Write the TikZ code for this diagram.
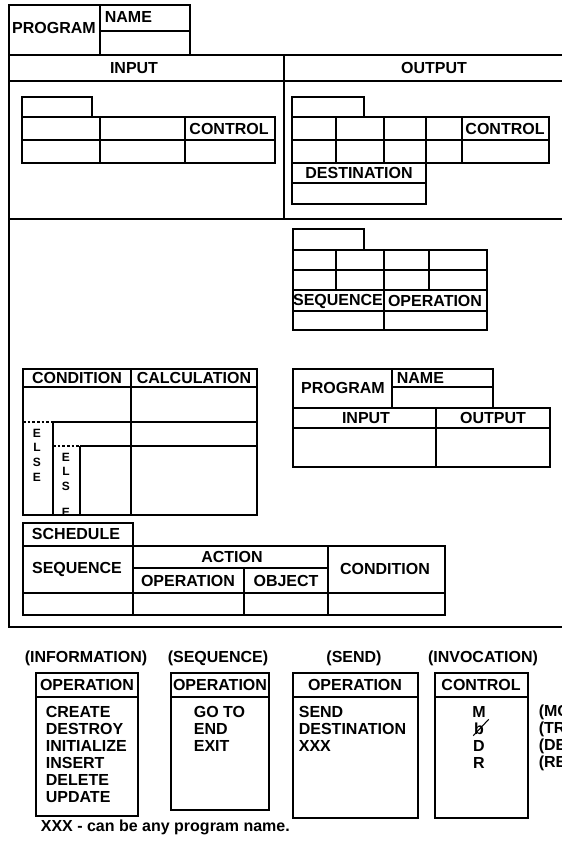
\documentclass[tikz,border=0pt]{standalone}
\usepackage{fontspec}
\setmainfont{Liberation Sans}
\tikzset{
    lbl/.style={font=\bfseries\fontsize{12}{14}\selectfont, inner sep=0pt},
    lft/.style={lbl, anchor=west},
    small/.style={font=\bfseries\fontsize{9}{10}\selectfont, inner sep=0pt},
    elsedash/.style={dash pattern=on 2pt off 1.5pt}
}
\begin{document}
\begin{tikzpicture}[x=0.75pt,y=-0.75pt,line width=1.25pt]
    \useasboundingbox (0,0) rectangle (561,846);
    \draw (9,5) rectangle (100,55);
    \draw (100,5) rectangle (190,55);
    \draw (100,31) -- (190,31);
    \node[lbl] (prog) at (54,28) {PROGRAM};
    \node[lft] (name) at (104,17) {NAME};
    \draw (9,55) rectangle (582,627);
    \draw (9,81) -- (582,81);
    \draw (9,219) -- (582,219);
    \draw (284,55) -- (284,219);
    \node[lbl] (inp) at (134,68) {INPUT};
    \node[lbl] (outp) at (434,68) {OUTPUT};
    \draw (22,97) rectangle (92,117);
    \draw (22,117) rectangle (275,163);
    \draw (22,140) -- (275,140);
    \foreach \x in {100,185} \draw (\x,117) -- (\x,163);
    \node[lbl] (inctl) at (229,129) {CONTROL};
    \draw (292,97) rectangle (364,117);
    \draw (292,117) rectangle (549,163);
    \draw (292,140) -- (549,140);
    \foreach \x in {336,384,426,462} \draw (\x,117) -- (\x,163);
    \node[lbl] (outctl) at (505,129) {CONTROL};
    \draw (292,163) rectangle (426,204);
    \draw (292,183) -- (426,183);
    \node[lbl] (dest) at (359,173) {DESTINATION};
    \draw (293,229) rectangle (364,250);
    \draw (293,250) rectangle (487,330);
    \foreach \y in {270,290,311} \draw (293,\y) -- (487,\y);
    \foreach \x in {336,429} \draw (\x,250) -- (\x,290);
    \draw (384,250) -- (384,330);
    \node[lbl] (seq) at (338,301) {SEQUENCE};
    \node[lbl] (oper) at (435,301) {OPERATION};
    \draw (293,369) rectangle (392,408);
    \draw (392,369) rectangle (493,408);
    \draw (392,387) -- (493,387);
    \node[lbl] (progb) at (343,388) {PROGRAM};
    \node[lft] (nameb) at (396,378) {NAME};
    \draw (293,408) rectangle (550,467);
    \draw (293,428) -- (550,428);
    \draw (436,408) -- (436,467);
    \node[lbl] (inpb) at (366,418) {INPUT};
    \node[lbl] (outpb) at (493,418) {OUTPUT};
    \draw (23,369) rectangle (257,515);
    \draw (23,387) -- (257,387);
    \draw (131,369) -- (131,515);
    \draw[elsedash] (23,422) -- (53,422);
    \draw (53,422) -- (257,422);
    \draw[elsedash] (53,446) -- (80,446);
    \draw (80,446) -- (257,446);
    \draw (53,422) -- (53,515);
    \draw (80,446) -- (80,515);
    \node[lbl] (cond) at (77,378) {CONDITION};
    \node[lbl] (calc) at (194,378) {CALCULATION};
    \foreach \c/\y in {E/433,L/447,S/462,E/477} \node[small] (elsea\y) at (37,\y) {\c};
    \foreach \c/\y in {E/457,L/471,S/486,E/512} \node[small] (elseb\y) at (66,\y) {\c};
    \draw (23,515) -- (257,515);
    \draw (23,523) rectangle (133,546);
    \node[lbl] (sched) at (76,534) {SCHEDULE};
    \draw (23,546) rectangle (445,615);
    \draw (23,593) -- (445,593);
    \draw (133,568) -- (328,568);
    \foreach \x in {133,328} \draw (\x,546) -- (\x,615);
    \draw (244,568) -- (244,615);
    \node[lbl] (seqb) at (77,569) {SEQUENCE};
    \node[lbl] (act) at (232,557) {ACTION};
    \node[lbl] (operb) at (188,581) {OPERATION};
    \node[lbl] (obj) at (286,581) {OBJECT};
    \node[lbl] (condb) at (385,569) {CONDITION};
    \node[lbl] (info) at (86,658) {(INFORMATION)};
    \node[lbl] (seqc) at (218,658) {(SEQUENCE)};
    \node[lbl] (send) at (354,658) {(SEND)};
    \node[lbl] (invoc) at (483,658) {(INVOCATION)};
    \draw (36,673) rectangle (138,816);
    \draw (36,697) -- (138,697);
    \node[lbl] (opa) at (87,685) {OPERATION};
    \foreach \t [count=\i] in {CREATE,DESTROY,INITIALIZE,INSERT,DELETE,UPDATE}
        \node[lft] (ia\i) at (45,{695+17*\i}) {\t};
    \draw (171,673) rectangle (269,810);
    \draw (171,697) -- (269,697);
    \node[lbl] (opb) at (220,685) {OPERATION};
    \foreach \t [count=\i] in {GO TO,END,EXIT}
        \node[lft] (ib\i) at (193,{695+17*\i}) {\t};
    \draw (293,673) rectangle (418,818);
    \draw (293,697) -- (418,697);
    \node[lbl] (opc) at (355,685) {OPERATION};
    \foreach \t [count=\i] in {SEND,DESTINATION,XXX}
        \node[lft] (ic\i) at (298,{695+17*\i}) {\t};
    \draw (435,673) rectangle (528,818);
    \draw (435,697) -- (528,697);
    \node[lbl] (ctl) at (481,685) {CONTROL};
    \node[lbl] (cm) at (479,712) {M};
    \node[lbl] (cb) at (479,729) {b};
    \draw[line width=0.8pt] (cb.south west) -- ([shift={(4,-3)}]cb.north east);
    \node[lbl] (cd) at (479,746) {D};
    \node[lbl] (cr) at (479,763) {R};
    \node[lft] (cx1) at (538,712) {(MO};
    \node[lft] (cx2) at (538,729) {(TR};
    \node[lft] (cx3) at (538,746) {(DE};
    \node[lft] (cx4) at (538,763) {(RE};
    \node[lft] (note) at (40,827) {XXX - can be any program name.};
\end{tikzpicture}
\end{document}
